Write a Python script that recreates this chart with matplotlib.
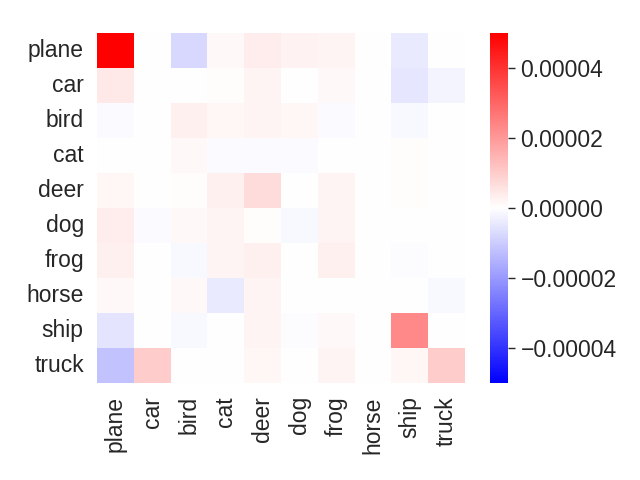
import numpy as np
import matplotlib
matplotlib.use("Agg")
import matplotlib.pyplot as plt
import seaborn as sns

classes = ["plane", "car", "bird", "cat", "deer", "dog", "frog", "horse", "ship", "truck"]

# values in units of 1e-5
row_plane = [5.2, 0.0, -0.78, 0.12, 0.39, 0.24, 0.20, 0.0, -0.41, 0.01]
row_car   = [0.45, 0.0, 0.0, 0.05, 0.23, -0.03, 0.15, 0.0, -0.49, -0.22]
row_bird  = [-0.10, 0.0, 0.29, 0.18, 0.23, 0.17, -0.08, 0.0, -0.14, 0.0]
row_cat   = [0.01, 0.0, 0.14, -0.08, -0.08, -0.08, 0.0, 0.0, 0.04, 0.0]
row_deer  = [0.17, -0.01, 0.07, 0.29, 0.69, -0.03, 0.20, 0.0, 0.05, -0.01]
row_dog   = [0.39, -0.10, 0.12, 0.20, 0.05, -0.12, 0.20, 0.0, 0.0, 0.0]
row_frog  = [0.30, 0.0, -0.12, 0.23, 0.28, 0.0, 0.28, 0.0, -0.07, 0.0]
row_horse = [0.15, 0.0, 0.12, -0.41, 0.23, 0.0, 0.0, 0.0, 0.0, -0.12]
row_ship  = [-0.53, 0.0, -0.12, 0.0, 0.23, -0.07, 0.14, 0.0, 2.31, 0.0]
row_truck = [-1.18, 0.98, 0.0, 0.0, 0.17, 0.0, 0.20, 0.0, 0.18, 0.98]

data = np.array([row_plane, row_car, row_bird, row_cat, row_deer,
                 row_dog, row_frog, row_horse, row_ship, row_truck]) * 1e-5

cbar_ticks = [-4e-5, -2e-5, 0, 2e-5, 4e-5]
cbar_labels = ["\u22120.00004", "\u22120.00002", "0.00000", "0.00002", "0.00004"]

sns.set_theme(style="white", font_scale=1.5)
plt.rcParams['font.family'] = ['Liberation Sans', 'DejaVu Sans']

fig = plt.figure(figsize=(6.4, 4.8), dpi=100)
ax = fig.add_axes([97/640, 1 - 383/480, 368/640, 350/480])
cax = fig.add_axes([490/640, 1 - 383/480, 18/640, 350/480])

sns.heatmap(data, ax=ax, cbar_ax=cax, cmap="bwr", vmin=-5e-5, vmax=5e-5,
            xticklabels=classes, yticklabels=classes)
ax.set_yticklabels(classes, rotation=0)
ax.set_xticklabels(classes, rotation=90)
ax.tick_params(left=False, bottom=False, right=False, top=False)

cbar = ax.collections[0].colorbar
cbar.set_ticks(cbar_ticks)
cbar.set_ticklabels(cbar_labels)
cbar.ax.tick_params(axis='y', which='major', right=True, left=False, labelright=True,
                    labelleft=False, direction='out', length=5, width=1,
                    color='.15', pad=4)

fig.savefig("out.png", dpi=100)
